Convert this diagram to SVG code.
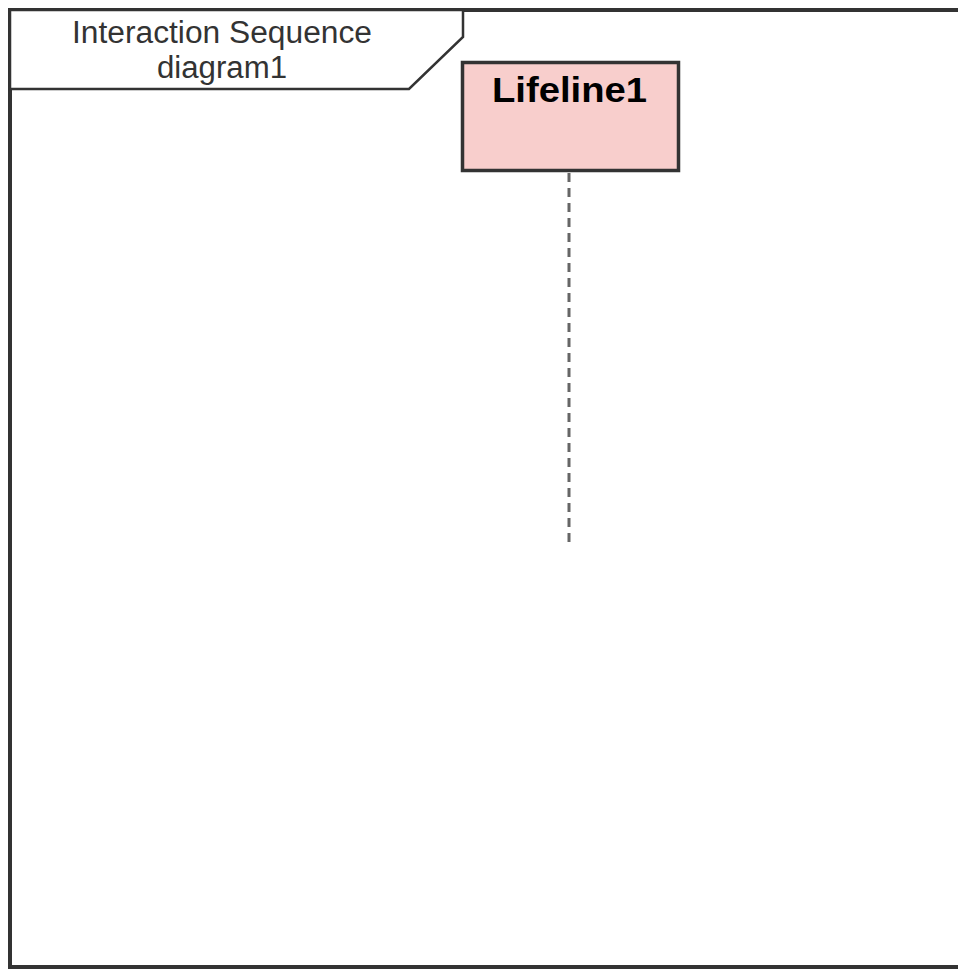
<svg xmlns="http://www.w3.org/2000/svg" width="958" height="969" viewBox="0 0 958 969">
<style>
.frame{fill:none;stroke:#333333;stroke-width:4}
.tab{fill:#ffffff;stroke:#333333;stroke-width:2.5}
.lbl{font-family:"Liberation Sans",Arial,sans-serif;font-size:31px;fill:#333333;text-anchor:middle}
.ll{fill:#f8cecc;stroke:#333333;stroke-width:3.5}
.lltxt{font-family:"Liberation Sans",Arial,sans-serif;font-size:35px;font-weight:bold;fill:#000000;text-anchor:middle}
.life{stroke:#666666;stroke-width:3;stroke-dasharray:9 6;fill:none}
</style>
<rect width="958" height="969" fill="#ffffff"/>
<g id="frame">
<rect class="frame" x="10" y="10" width="960" height="957"/>
<path class="tab" d="M10 10 H463 V37 L409 89 H10 Z"/>
<text class="lbl" x="222" y="43" textLength="300" lengthAdjust="spacingAndGlyphs">Interaction Sequence</text>
<text class="lbl" x="222" y="78" textLength="130" lengthAdjust="spacingAndGlyphs">diagram1</text>
</g>
<g id="connectors">
<line class="life" x1="569" y1="173" x2="569" y2="546"/>
</g>
<g id="lifeline1">
<rect class="ll" x="462.5" y="62.5" width="216" height="108"/>
<text class="lltxt" x="569.5" y="102" textLength="155" lengthAdjust="spacingAndGlyphs">Lifeline1</text>
</g>
</svg>
